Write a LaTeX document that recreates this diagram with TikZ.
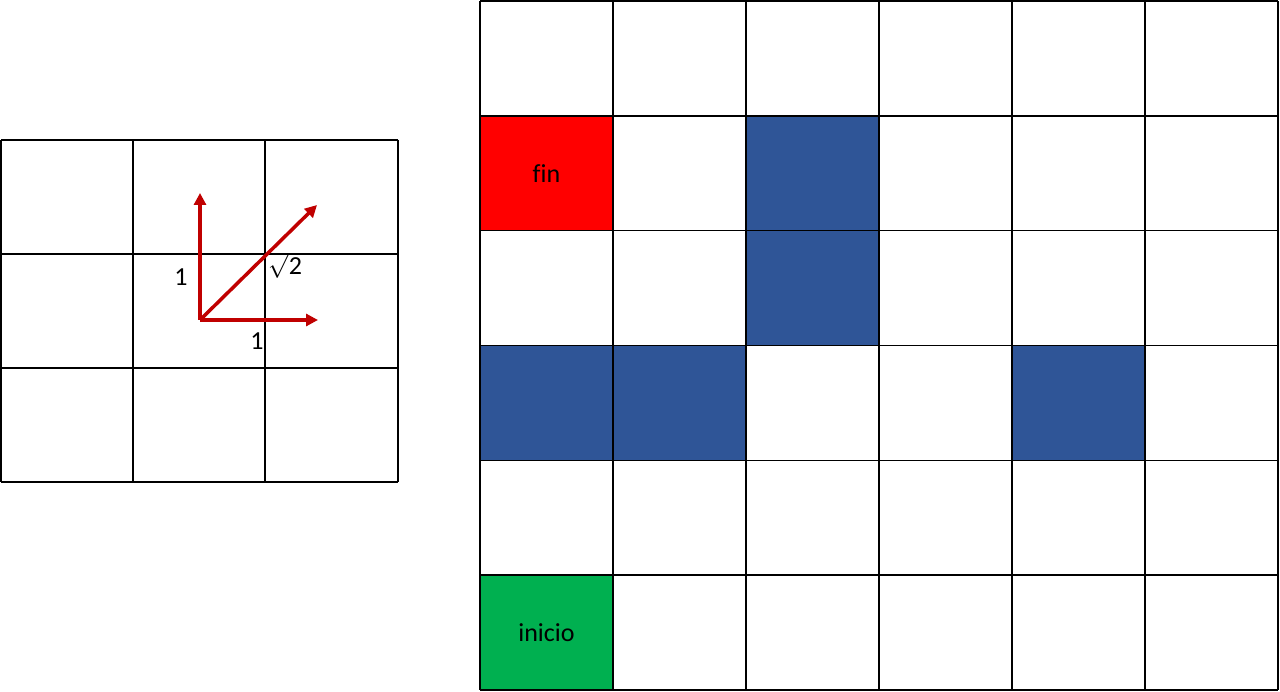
\documentclass[tikz,border=0pt]{standalone}
\usepackage{fontspec}
\setmainfont{Carlito}[Ligatures={NoCommon}]
\usetikzlibrary{arrows.meta}
\definecolor{obst}{HTML}{2F5597}
\definecolor{goal}{HTML}{FF0000}
\definecolor{start}{HTML}{00B050}
\definecolor{vec}{HTML}{C00000}
\tikzset{
  gridline/.style={draw=black, line width=1.5pt},
  vecarrow/.style={draw=vec, line width=3.5pt, -{Triangle[length=12pt,width=12pt]}},
  lbl/.style={inner sep=0pt, font=\fontsize{26}{30}\selectfont},
}
\begin{document}
\begin{tikzpicture}[x=1pt,y=-1pt]
\useasboundingbox (0,0) rectangle (1280,692);
% big grid fills
\def\cw{133}
\def\rh{114.83}
\fill[goal]  (480,{1+1*\rh}) rectangle (613,{1+2*\rh});
\fill[start] (480,{1+5*\rh}) rectangle (613,{1+6*\rh});
\fill[obst]  (746,{1+1*\rh}) rectangle (879,{1+3*\rh});
\fill[obst]  (480,{1+3*\rh}) rectangle (746,{1+4*\rh});
\fill[obst]  (1012,{1+3*\rh}) rectangle (1145,{1+4*\rh});
% big grid lines
\foreach \i in {0,...,6} {
  \draw[gridline] ({480+\i*\cw},1) -- ({480+\i*\cw},690);
  \draw[gridline] (480,{1+\i*\rh}) -- (1278,{1+\i*\rh});
}
% small grid lines
\foreach \x in {1,133,265,398} \draw[gridline] (\x,140) -- (\x,482);
\foreach \y in {140,254,368,482} \draw[gridline] (1,\y) -- (398,\y);
% vectors
\coordinate (o) at (200,320);
\coordinate (up) at (200,193);
\coordinate (rt) at (318,320);
\coordinate (dg) at (317,205);
\draw[vecarrow] (o) -- (up);
\draw[vecarrow] (o) -- (rt);
\draw[vecarrow] (o) -- (dg);
% labels
\node[lbl] (fin) at (546.5,174) {fin};
\node[lbl] (inicio) at (546.5,633) {inicio};
\node[lbl] (lone) at (181,277) {1};
\node[lbl] (bone) at (257,341) {1};
\node[lbl] (sqtwo) at (285,265) {$\sqrt{\mbox{2}}$};
\end{tikzpicture}
\end{document}
